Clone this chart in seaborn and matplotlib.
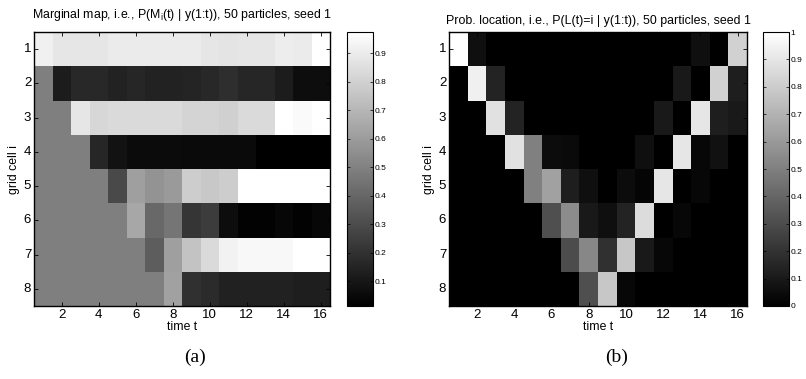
import numpy as np
import matplotlib
matplotlib.use("Agg")
import matplotlib.pyplot as plt
import seaborn as sns

# time steps and grid cells
times = list(range(1, 17))
cells = list(range(1, 9))

# (a) marginal map P(M_i(t) | y(1:t))
marg_1 = [0.918, 0.88, 0.88, 0.88, 0.899, 0.899, 0.899, 0.899, 0.899, 0.88, 0.872, 0.88, 0.88, 0.906, 0.899, 0.975]
marg_2 = [0.492, 0.119, 0.165, 0.165, 0.142, 0.157, 0.142, 0.142, 0.15, 0.165, 0.187, 0.157, 0.157, 0.119, 0.062, 0.062]
marg_3 = [0.492, 0.492, 0.88, 0.823, 0.834, 0.834, 0.834, 0.834, 0.811, 0.811, 0.796, 0.834, 0.834, 0.975, 0.956, 0.975]
marg_4 = [0.492, 0.492, 0.492, 0.157, 0.081, 0.058, 0.058, 0.058, 0.051, 0.051, 0.051, 0.051, 0.013, 0.013, 0.013, 0.013]
marg_5 = [0.492, 0.492, 0.492, 0.492, 0.29, 0.614, 0.568, 0.595, 0.785, 0.766, 0.785, 0.975, 0.975, 0.975, 0.975, 0.975]
marg_6 = [0.492, 0.492, 0.492, 0.492, 0.492, 0.644, 0.404, 0.454, 0.214, 0.241, 0.062, 0.024, 0.024, 0.043, 0.024, 0.043]
marg_7 = [0.492, 0.492, 0.492, 0.492, 0.492, 0.492, 0.366, 0.614, 0.747, 0.834, 0.926, 0.948, 0.948, 0.948, 0.975, 0.975]
marg_8 = [0.492, 0.492, 0.492, 0.492, 0.492, 0.492, 0.492, 0.621, 0.195, 0.176, 0.138, 0.138, 0.138, 0.138, 0.127, 0.127]

# (b) location probability P(L(t)=i | y(1:t))
loc_1 = [1.0, 0.06, 0, 0, 0, 0, 0, 0, 0, 0, 0, 0, 0, 0.06, 0, 0.82]
loc_2 = [0, 0.94, 0.14, 0, 0, 0, 0, 0, 0, 0, 0, 0, 0.1, 0, 0.82, 0.12]
loc_3 = [0, 0, 0.88, 0.14, 0, 0, 0, 0, 0, 0, 0, 0.1, 0, 0.9, 0.12, 0.1]
loc_4 = [0, 0, 0, 0.88, 0.5, 0.05, 0.04, 0, 0, 0, 0.06, 0, 0.9, 0.03, 0.07, 0]
loc_5 = [0, 0, 0, 0, 0.5, 0.63, 0.12, 0.06, 0, 0.05, 0.02, 0.9, 0, 0.03, 0, 0]
loc_6 = [0, 0, 0, 0, 0, 0.31, 0.55, 0.1, 0.06, 0.14, 0.86, 0, 0.03, 0, 0, 0]
loc_7 = [0, 0, 0, 0, 0, 0, 0.3, 0.53, 0.19, 0.78, 0.1, 0.03, 0, 0, 0, 0]
loc_8 = [0, 0, 0, 0, 0, 0, 0, 0.31, 0.78, 0.03, 0, 0, 0, 0, 0, 0]

marg = np.array([marg_1, marg_2, marg_3, marg_4, marg_5, marg_6, marg_7, marg_8])
loc = np.array([loc_1, loc_2, loc_3, loc_4, loc_5, loc_6, loc_7, loc_8])

sans = "Liberation Sans"
serif = "Liberation Serif"
plt.rcParams["font.family"] = sans

fig = plt.figure(figsize=(8.06, 3.79), dpi=100)
ax_a = fig.add_axes([34 / 806, 73 / 379, 296 / 806, 274 / 379])
cax_a = fig.add_axes([347 / 806, 73 / 379, 26 / 806, 274 / 379])
ax_b = fig.add_axes([449 / 806, 73 / 379, 298 / 806, 274 / 379])
cax_b = fig.add_axes([763 / 806, 73 / 379, 26 / 806, 274 / 379])

sns.heatmap(marg, ax=ax_a, cmap="gray", cbar_ax=cax_a,
            cbar_kws={"ticks": [0.1, 0.2, 0.3, 0.4, 0.5, 0.6, 0.7, 0.8, 0.9]})
sns.heatmap(loc, ax=ax_b, cmap="gray", vmin=0, vmax=1, cbar_ax=cax_b,
            cbar_kws={"ticks": [0, 0.1, 0.2, 0.3, 0.4, 0.5, 0.6, 0.7, 0.8, 0.9, 1]})

titles = ["Marginal map, i.e., P(M$_\\mathregular{i}$(t) | y(1:t)), 50 particles, seed 1",
          "Prob. location, i.e., P(L(t)=i | y(1:t)), 50 particles, seed 1"]
pads = [10, 6]
for ax, title, pad in zip([ax_a, ax_b], titles, pads):
    ax.set_xticks([t - 0.5 for t in times if t % 2 == 0])
    ax.set_xticklabels([str(t) for t in times if t % 2 == 0], rotation=0)
    ax.set_yticks([c - 0.5 for c in cells])
    ax.set_yticklabels([str(c) for c in cells], rotation=0)
    ax.tick_params(direction="in", length=3, width=0.6, pad=2, labelsize=9.5,
                   top=True, right=True, color="black")
    ax.set_xlabel("time t", fontsize=8.8, labelpad=0)
    ax.set_ylabel("grid cell i", fontsize=8.8, labelpad=3)
    ax.set_title(title, fontsize=8.9, pad=pad)
    for s in ax.spines.values():
        s.set_visible(True)
        s.set_linewidth(1.0)
        s.set_color("black")
    cb = ax.collections[0].colorbar
    cb.outline.set_visible(True)
    cb.outline.set_linewidth(0.8)
    cb.outline.set_edgecolor("black")

for cax in [cax_a, cax_b]:
    cax.tick_params(direction="in", length=2, width=0.5, pad=1, labelsize=6,
                    left=True, right=True)
    cax.yaxis.set_major_formatter(matplotlib.ticker.FuncFormatter(lambda v, p: f"{v:g}"))

fig.text(195 / 806, 1 - 357 / 379, "(a)", family=serif, fontsize=14, ha="center", va="center")
fig.text(617 / 806, 1 - 357 / 379, "(b)", family=serif, fontsize=14, ha="center", va="center")

fig.savefig("out.png", dpi=100)
